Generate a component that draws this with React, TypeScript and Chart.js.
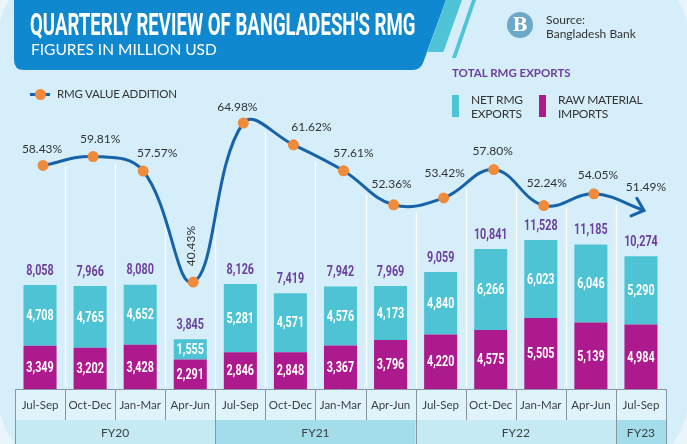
import React, { useEffect, useRef } from 'react';
import { Chart, registerables } from 'chart.js';

Chart.register(...registerables);

// ---------- data ----------
const quarterLabels = ['Jul-Sep', 'Oct-Dec', 'Jan-Mar', 'Apr-Jun', 'Jul-Sep', 'Oct-Dec', 'Jan-Mar', 'Apr-Jun', 'Jul-Sep', 'Oct-Dec', 'Jan-Mar', 'Apr-Jun', 'Jul-Sep'];
const fiscalYears = ['FY20', 'FY21', 'FY22', 'FY23'];
const fiscalYearQuarterCounts = [4, 4, 4, 1];
const rawMaterialImports = [3349, 3202, 3428, 2291, 2846, 2848, 3367, 3796, 4220, 4575, 5505, 5139, 4984];
const netRmgExports = [4708, 4765, 4652, 1555, 5281, 4571, 4576, 4173, 4840, 6266, 6023, 6046, 5290];
const totalRmgExports = [8058, 7966, 8080, 3845, 8126, 7419, 7942, 7969, 9059, 10841, 11528, 11185, 10274];
const valueAdditionPct = [58.43, 59.81, 57.57, 40.43, 64.98, 61.62, 57.61, 52.36, 53.42, 57.8, 52.24, 54.05, 51.49];

// ---------- style ----------
const TEAL = '#4ec3d3';
const MAGENTA = '#ad1a8d';
const PURPLE_TEXT = '#6b3f9e';
const LINE_BLUE = '#1763a9';
const ORANGE = '#ef8b3b';
const BG = '#d6eefa';
const LINE_DX = 3;
// label placement for the percentage annotations (dx, dy from the point)
const pctLabelOffsets: [number, number][] = [
  [-1, -16], [7, -17], [14, -18], [-2, -36], [-6, -16], [18, -18], [10, -18],
  [-2, -21], [1, -25], [-1, -18], [3, -22], [4, -19], [2, -23],
];

const fmt = (v: number) => v.toLocaleString('en-US');

function condensedText(ctx: CanvasRenderingContext2D, text: string, x: number, y: number, color: string) {
  ctx.save();
  ctx.translate(x, y);
  ctx.scale(0.72, 1);
  ctx.font = 'bold 15px Roboto';
  ctx.fillStyle = color;
  ctx.textAlign = 'center';
  ctx.textBaseline = 'middle';
  ctx.fillText(text, 0, 0);
  ctx.restore();
}

const infographicPlugin = {
  id: 'infographic',
  beforeDatasetsDraw(chart: any) {
    const ctx: CanvasRenderingContext2D = chart.ctx;
    const area = chart.chartArea;
    const n = quarterLabels.length;
    const colW = (area.right - area.left) / n;
    const bounds: number[] = [];
    for (let i = 0; i <= n; i++) bounds.push(area.left + i * colW);
    const r1top = area.bottom;
    const r1bot = area.bottom + 31;
    const r2bot = chart.height;

    ctx.save();
    ctx.fillStyle = '#e0f3fb';
    ctx.fillRect(area.left, r1top, area.right - area.left, r1bot - r1top);
    let idx = 0;
    const fyBounds = new Set<number>([0, n]);
    fiscalYears.forEach((fy, k) => {
      const x0 = bounds[idx];
      const x1 = bounds[idx + fiscalYearQuarterCounts[k]];
      ctx.fillStyle = k % 2 === 0 ? '#c6eaf4' : '#a3dde9';
      ctx.fillRect(x0, r1bot, x1 - x0, r2bot - r1bot);
      ctx.fillStyle = '#3a3f44';
      ctx.font = '12px Lato';
      ctx.textAlign = 'center';
      ctx.textBaseline = 'middle';
      ctx.fillText(fy, (x0 + x1) / 2, (r1bot + r2bot) / 2 + 1);
      idx += fiscalYearQuarterCounts[k];
      fyBounds.add(idx);
    });
    ctx.strokeStyle = '#86959f';
    ctx.lineWidth = 1;
    ctx.beginPath();
    ctx.moveTo(area.left, Math.round(r1top) + 0.5);
    ctx.lineTo(area.right, Math.round(r1top) + 0.5);
    for (let i = 0; i <= n; i++) {
      const x = Math.round(bounds[i]) + 0.5;
      ctx.moveTo(x, r1top);
      ctx.lineTo(x, fyBounds.has(i) ? r2bot : r1bot);
    }
    ctx.stroke();
    ctx.fillStyle = '#3a3f44';
    ctx.font = '11.5px Lato';
    ctx.textAlign = 'center';
    ctx.textBaseline = 'middle';
    quarterLabels.forEach((q, i) => ctx.fillText(q, (bounds[i] + bounds[i + 1]) / 2, (r1top + r1bot) / 2 + 1));

    // white column separators, only below the value-addition curve
    const meta = chart.getDatasetMeta(2);
    const line: any = meta.dataset;
    const pts = meta.data;
    if (line && pts.length) {
      if (line.updateControlPoints) line.updateControlPoints(area, 'x');
      ctx.save();
      ctx.beginPath();
      ctx.translate(LINE_DX, 6);
      line.path(ctx);
      ctx.lineTo(pts[pts.length - 1].x, area.bottom);
      ctx.lineTo(pts[0].x, area.bottom);
      ctx.closePath();
      ctx.setTransform(1, 0, 0, 1, 0, 0);
      ctx.clip();
      ctx.strokeStyle = 'rgba(255,255,255,0.95)';
      ctx.lineWidth = 1.3;
      ctx.beginPath();
      for (let i = 1; i < n; i++) {
        const x = Math.round(bounds[i]) + 0.5;
        ctx.moveTo(x, area.top);
        ctx.lineTo(x, r1top);
      }
      ctx.stroke();
      ctx.restore();
    }
    ctx.restore();
  },
  beforeDatasetDraw(chart: any, args: any) {
    if (args.index === 2) {
      chart.ctx.save();
      chart.ctx.translate(LINE_DX, 0);
    }
  },
  afterDatasetDraw(chart: any, args: any) {
    if (args.index === 2) chart.ctx.restore();
  },
  afterDatasetsDraw(chart: any) {
    const ctx: CanvasRenderingContext2D = chart.ctx;
    const rawMeta = chart.getDatasetMeta(0);
    const netMeta = chart.getDatasetMeta(1);
    for (let i = 0; i < quarterLabels.length; i++) {
      const rb = rawMeta.data[i];
      const nb = netMeta.data[i];
      condensedText(ctx, fmt(rawMaterialImports[i]), rb.x, (rb.y + rb.base) / 2 + 1, '#ffffff');
      condensedText(ctx, fmt(netRmgExports[i]), nb.x, (nb.y + nb.base) / 2 + 1, '#ffffff');
      condensedText(ctx, fmt(totalRmgExports[i]), nb.x, nb.y - 14, PURPLE_TEXT);
    }
    const lineMeta = chart.getDatasetMeta(2);
    const pts = lineMeta.data;
    ctx.save();
    ctx.fillStyle = '#2f3336';
    ctx.font = '12px Lato';
    ctx.textAlign = 'center';
    ctx.textBaseline = 'middle';
    pts.forEach((p: any, i: number) => {
      const [dx, dy] = pctLabelOffsets[i];
      const txt = valueAdditionPct[i].toFixed(2) + '%';
      const x = p.x + LINE_DX + dx;
      const y = p.y + dy;
      if (i === 3) {
        ctx.save();
        ctx.translate(x, y);
        ctx.rotate(-Math.PI / 2);
        ctx.fillText(txt, 0, 0);
        ctx.restore();
      } else {
        ctx.fillText(txt, x, y);
      }
    });
    const last: any = pts[pts.length - 1];
    const prev: any = pts[pts.length - 2];
    let fx = last.cp1x, fy = last.cp1y;
    if (fx === undefined || (Math.abs(fx - last.x) < 0.5 && Math.abs(fy - last.y) < 0.5)) { fx = prev.x; fy = prev.y; }
    const ang = Math.atan2(last.y - fy, last.x - fx);
    const tx = last.x + LINE_DX;
    const ty = last.y;
    const L = 14;
    ctx.strokeStyle = LINE_BLUE;
    ctx.lineWidth = 3;
    ctx.lineCap = 'round';
    ctx.beginPath();
    ctx.moveTo(tx + L * Math.cos(ang + Math.PI - 0.72), ty + L * Math.sin(ang + Math.PI - 0.72));
    ctx.lineTo(tx, ty);
    ctx.lineTo(tx + L * Math.cos(ang + Math.PI + 0.72), ty + L * Math.sin(ang + Math.PI + 0.72));
    ctx.stroke();
    ctx.restore();
  },
};

export default function App() {
  const canvasRef = useRef<HTMLCanvasElement | null>(null);

  useEffect(() => {
    document.body.style.margin = '0';
    const canvas = canvasRef.current;
    if (!canvas) return;
    const chart = new Chart(canvas, {
      type: 'bar',
      data: {
        labels: quarterLabels,
        datasets: [
          {
            type: 'bar',
            label: 'Raw material imports',
            data: rawMaterialImports,
            backgroundColor: MAGENTA,
            stack: 'rmg',
            yAxisID: 'y',
            order: 2,
            barPercentage: 0.66,
            categoryPercentage: 1,
            borderWidth: 0,
          },
          {
            type: 'bar',
            label: 'Net RMG exports',
            data: netRmgExports,
            backgroundColor: TEAL,
            stack: 'rmg',
            yAxisID: 'y',
            order: 2,
            barPercentage: 0.66,
            categoryPercentage: 1,
            borderWidth: 0,
          },
          {
            type: 'line',
            label: 'RMG value addition',
            data: valueAdditionPct,
            yAxisID: 'y2',
            borderColor: LINE_BLUE,
            borderWidth: 3,
            tension: 0.4,
            pointRadius: valueAdditionPct.map((_, i) => (i === valueAdditionPct.length - 1 ? 0 : 5.5)),
            pointBackgroundColor: ORANGE,
            pointBorderWidth: 0,
            order: 0,
            clip: false as any,
          } as any,
        ],
      },
      options: {
        responsive: false,
        devicePixelRatio: 1,
        animation: false,
        layout: { padding: { left: 15, right: 21, top: 79, bottom: 55 } },
        plugins: { legend: { display: false }, tooltip: { enabled: false }, title: { display: false } },
        scales: {
          x: { display: false, stacked: true, offset: true, grid: { display: false } },
          y: { display: false, stacked: true, min: 0, max: 24000 },
          y2: { display: false, min: 23.93, max: 71.77 },
        },
      },
      plugins: [infographicPlugin],
    });
    return () => chart.destroy();
  }, []);

  const txt: React.CSSProperties = { position: 'absolute', fontFamily: 'Lato', color: '#333', whiteSpace: 'nowrap', lineHeight: 1 };

  return (
    <div style={{ position: 'relative', width: 687, height: 444, overflow: 'hidden', background: '#e8f6fc' }}>
      <div style={{ position: 'absolute', left: -2, top: -40, width: 691, height: 515, borderRadius: 80, background: BG }} />
      <canvas ref={canvasRef} width={687} height={444} style={{ position: 'absolute', left: 0, top: 0 }} />
      <svg width={687} height={80} style={{ position: 'absolute', left: 0, top: 0 }}>
        <path d="M14,0 L446,0 L423,63 Q420,70 413,70 L24,70 Q14,70 14,60 Z" fill="#1088d0" />
        <path d="M446,0 L462,0 L443.4,52 L427.4,52 Z" fill="#4fc4d6" />
        <path d="M472,0 L476,0 L456,58 L452,58 Z" fill="#4fc4d6" />
      </svg>
      <div style={{ ...txt, left: 30, top: 9, color: '#fff', fontFamily: 'Roboto', fontWeight: 700, fontSize: 31, transform: 'scaleX(0.6)', transformOrigin: 'left top' }}>
        QUARTERLY REVIEW OF BANGLADESH'S RMG
      </div>
      <div style={{ ...txt, left: 31, top: 42, color: '#fff', fontSize: 15.5 }}>FIGURES IN MILLION USD</div>

      <div style={{ position: 'absolute', left: 507, top: 12, width: 26, height: 26, borderRadius: 13, background: '#6ca8c7', color: '#fff', fontFamily: 'DejaVu Serif', fontWeight: 700, fontSize: 18, lineHeight: '26px', textAlign: 'center' }}>B</div>
      <div style={{ ...txt, left: 546, top: 14, fontSize: 12 }}>Source:</div>
      <div style={{ ...txt, left: 546, top: 28, fontSize: 12 }}>Bangladesh Bank</div>

      <div style={{ ...txt, left: 452, top: 67, fontSize: 11.5, fontWeight: 700, color: PURPLE_TEXT }}>TOTAL RMG EXPORTS</div>
      <div style={{ position: 'absolute', left: 452, top: 95, width: 7, height: 22, background: TEAL }} />
      <div style={{ ...txt, left: 471, top: 93, fontSize: 12, letterSpacing: -0.2, lineHeight: '14px' }}>NET RMG<br />EXPORTS</div>
      <div style={{ position: 'absolute', left: 539, top: 95, width: 7, height: 22, background: MAGENTA }} />
      <div style={{ ...txt, left: 558, top: 93, fontSize: 12, letterSpacing: -0.3, lineHeight: '14px' }}>RAW MATERIAL<br />IMPORTS</div>

      <div style={{ position: 'absolute', left: 30, top: 93, width: 20, height: 3, background: LINE_BLUE }} />
      <div style={{ position: 'absolute', left: 35, top: 89, width: 11, height: 11, borderRadius: 6, background: ORANGE }} />
      <div style={{ ...txt, left: 57, top: 88, fontSize: 11.5, letterSpacing: -0.2 }}>RMG VALUE ADDITION</div>
    </div>
  );
}
